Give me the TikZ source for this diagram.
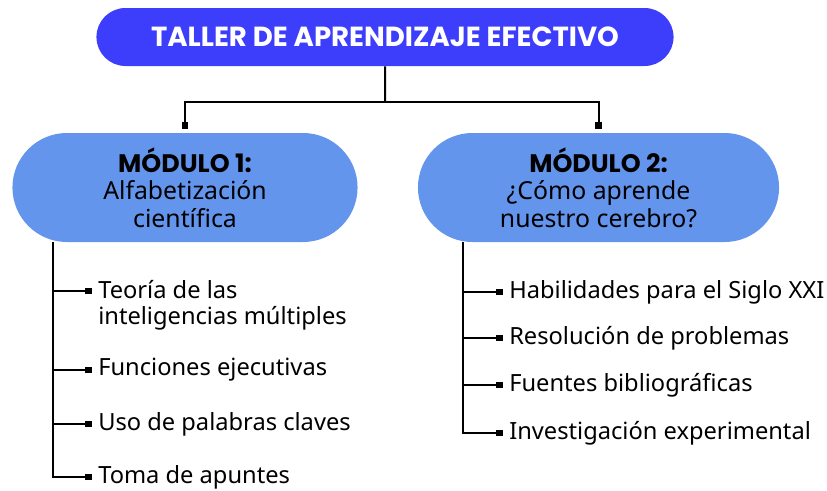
\documentclass[tikz,border=0pt]{standalone}
\usepackage{fontspec}
\setmainfont{Noto Sans}
\newfontfamily\headfont{Poppins}
\usetikzlibrary{shapes.misc,arrows.meta}
\definecolor{titleblue}{RGB}{61,61,252}
\definecolor{moduleblue}{RGB}{100,149,237}

\begin{document}
\begin{tikzpicture}[x=0.75pt,y=0.75pt,yscale=-1,xscale=1,
	titlebox/.style={rounded rectangle, fill=titleblue, text=white, minimum width=439.5pt, minimum height=43.5pt, font=\headfont\bfseries\fontsize{20.7}{22}\selectfont},
	modbox/.style={rounded rectangle, fill=moduleblue, minimum height=81.75pt, align=center, font=\fontsize{18.6}{20.6}\selectfont},
	link/.style={line width=1.5pt, -{Square[length=5pt,width=5pt]}},
	item/.style={anchor=west, inner xsep=4.5pt, inner ysep=0pt, align=left, font=\fontsize{17.75}{19.5}\selectfont}]
		\useasboundingbox (0,0) rectangle (827,490);
		\node[titlebox] (title) at (385,37) {TALLER DE APRENDIZAJE EFECTIVO};
		\node[modbox, minimum width=265.5pt] (m1) at (185,187.5) {{\headfont\bfseries\fontsize{19}{20.6}\selectfont MÓDULO 1:}\\Alfabetización\\científica};
		\node[modbox, minimum width=277.5pt] (m2) at (598.5,187.5) {{\headfont\bfseries\fontsize{19}{20.6}\selectfont MÓDULO 2:}\\¿Cómo aprende\\nuestro cerebro?};
		\coordinate (j) at (385,102);
		\draw[line width=1.5pt] (title) -- (j);
		\draw[link, shorten >=3pt] (j) -| (m1);
		\draw[link, shorten >=3pt] (j) -| (m2);
		\node[item] (a1) at (92,305) {Teoría de las\\inteligencias múltiples};
		\node[item] (a2) at (92,370) {Funciones ejecutivas};
		\node[item] (a3) at (92,424) {Uso de palabras claves};
		\node[item] (a4) at (92,477) {Toma de apuntes};
		\coordinate (b1) at (92,291);
		\coordinate (t1) at (53,242);
		\draw[link] (t1) |- (a4);
		\draw[link] (t1 |- b1) -- (b1);
		\foreach \n in {2,3}
			\draw[link] (t1 |- a\n) -- (a\n);
		\node[item] (r1) at (503,292) {Habilidades para el Siglo XXI};
		\node[item] (r2) at (503,338) {Resolución de problemas};
		\node[item] (r3) at (503,385) {Fuentes bibliográficas};
		\node[item] (r4) at (503,433) {Investigación experimental};
		\coordinate (t2) at (463,242);
		\draw[link] (t2) |- (r4);
		\foreach \n in {1,2,3}
			\draw[link] (t2 |- r\n) -- (r\n);
\end{tikzpicture}
\end{document}
